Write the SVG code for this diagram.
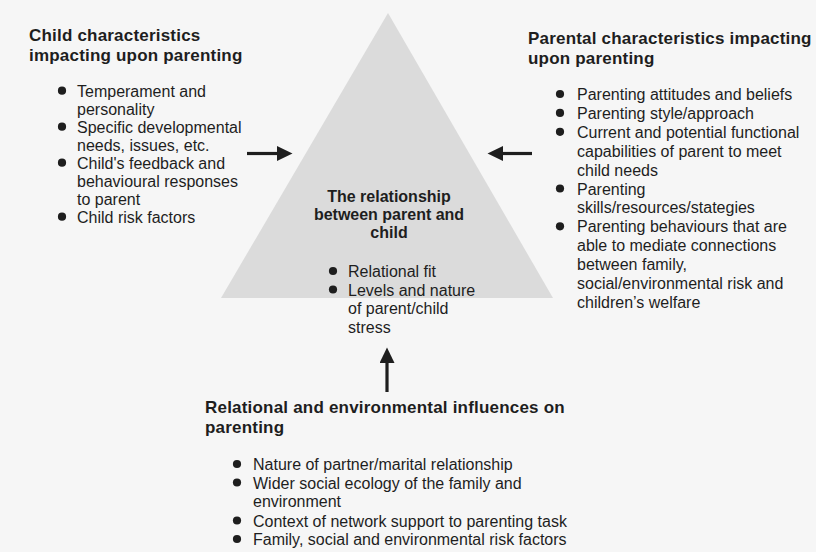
<svg xmlns="http://www.w3.org/2000/svg" width="816" height="552" viewBox="0 0 816 552">
  <style>
    text { font-family: "Liberation Sans", Arial, Helvetica, sans-serif; fill: #1e1e1e; }
    .title { font-size: 17px; font-weight: bold; letter-spacing: 0.2px; }
    .ctitle { font-size: 16px; font-weight: bold; text-anchor: middle; }
    .item { font-size: 16px; }
    .dot { fill: #1e1e1e; }
    .conn { stroke: #1e1e1e; stroke-width: 3.2; fill: none; }
  </style>
  <defs>
    <marker id="head" markerUnits="userSpaceOnUse" markerWidth="16" markerHeight="16" refX="0" refY="7.5" orient="auto">
      <path d="M0,0 L15.5,7.5 L0,15 z" fill="#1e1e1e"/>
    </marker>
  </defs>
  <rect x="0" y="0" width="816" height="552" fill="#f6f6f6"/>

  <g id="relationship">
    <polygon points="388,13 553,298 221,298" fill="#dbdbdb"/>
    <text class="ctitle" x="389" y="201.7">The relationship</text>
    <text class="ctitle" x="389" y="220">between parent and</text>
    <text class="ctitle" x="389" y="238.3">child</text>
    <circle class="dot" cx="333" cy="271" r="4.1"/>
    <circle class="dot" cx="333" cy="289.5" r="4.1"/>
    <text class="item" x="348" y="277">Relational fit</text>
    <text class="item" x="348" y="295.5">Levels and nature</text>
    <text class="item" x="348" y="314">of parent/child</text>
    <text class="item" x="348" y="332.5">stress</text>
  </g>

  <g id="child">
    <text class="title" x="29" y="40.5">Child characteristics</text>
    <text class="title" x="29" y="60.5">impacting upon parenting</text>
    <circle class="dot" cx="62" cy="90.7" r="4.1"/>
    <circle class="dot" cx="62" cy="126.7" r="4.1"/>
    <circle class="dot" cx="62" cy="162.7" r="4.1"/>
    <circle class="dot" cx="62" cy="216.7" r="4.1"/>
    <text class="item" x="77" y="96.7">Temperament and</text>
    <text class="item" x="77" y="114.7">personality</text>
    <text class="item" x="77" y="132.7">Specific developmental</text>
    <text class="item" x="77" y="150.7">needs, issues, etc.</text>
    <text class="item" x="77" y="168.7">Child's feedback and</text>
    <text class="item" x="77" y="186.7">behavioural responses</text>
    <text class="item" x="77" y="204.7">to parent</text>
    <text class="item" x="77" y="222.7">Child risk factors</text>
  </g>

  <g id="parental">
    <text class="title" x="528" y="44">Parental characteristics impacting</text>
    <text class="title" x="528" y="64">upon parenting</text>
    <circle class="dot" cx="560" cy="94" r="4.1"/>
    <circle class="dot" cx="560" cy="112.9" r="4.1"/>
    <circle class="dot" cx="560" cy="131.8" r="4.1"/>
    <circle class="dot" cx="560" cy="188.5" r="4.1"/>
    <circle class="dot" cx="560" cy="226.3" r="4.1"/>
    <text class="item" x="577" y="100">Parenting attitudes and beliefs</text>
    <text class="item" x="577" y="118.9">Parenting style/approach</text>
    <text class="item" x="577" y="137.8">Current and potential functional</text>
    <text class="item" x="577" y="156.7">capabilities of parent to meet</text>
    <text class="item" x="577" y="175.6">child needs</text>
    <text class="item" x="577" y="194.5">Parenting</text>
    <text class="item" x="577" y="213.4">skills/resources/stategies</text>
    <text class="item" x="577" y="232.3">Parenting behaviours that are</text>
    <text class="item" x="577" y="251.2">able to mediate connections</text>
    <text class="item" x="577" y="270.1">between family,</text>
    <text class="item" x="577" y="289">social/environmental risk and</text>
    <text class="item" x="577" y="307.9">children’s welfare</text>
  </g>

  <g id="environmental">
    <text class="title" x="205" y="412.5">Relational and environmental influences on</text>
    <text class="title" x="205" y="432.5">parenting</text>
    <circle class="dot" cx="237" cy="464" r="4.1"/>
    <circle class="dot" cx="237" cy="482.5" r="4.1"/>
    <circle class="dot" cx="237" cy="520.5" r="4.1"/>
    <circle class="dot" cx="237" cy="539" r="4.1"/>
    <text class="item" x="253" y="470">Nature of partner/marital relationship</text>
    <text class="item" x="253" y="488.5">Wider social ecology of the family and</text>
    <text class="item" x="253" y="507">environment</text>
    <text class="item" x="253" y="526.5">Context of network support to parenting task</text>
    <text class="item" x="253" y="545">Family, social and environmental risk factors</text>
  </g>

  <g id="connectors">
    <line class="conn" x1="247" y1="153.5" x2="277" y2="153.5" marker-end="url(#head)"/>
    <line class="conn" x1="532" y1="153.5" x2="503" y2="153.5" marker-end="url(#head)"/>
    <line class="conn" x1="387" y1="392" x2="387" y2="363" marker-end="url(#head)"/>
  </g>
</svg>
